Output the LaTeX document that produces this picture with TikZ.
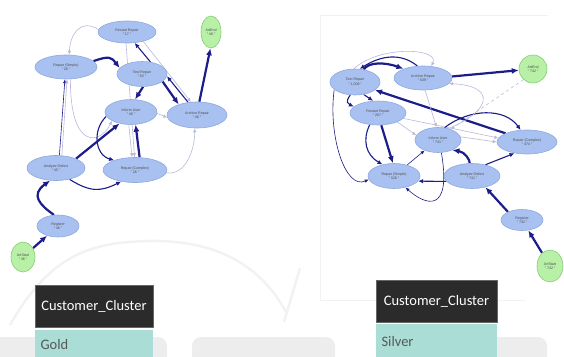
\documentclass[tikz,border=0pt]{standalone}
\usepackage{fontspec}
\setmainfont{Liberation Sans}
\newfontfamily\headfont{Carlito}
\usetikzlibrary{shapes.geometric, arrows.meta}
\definecolor{actfill}{HTML}{A9C1F0}
\definecolor{actline}{HTML}{8FA9DD}
\definecolor{artfill}{HTML}{B7F0A6}
\definecolor{artline}{HTML}{86CC74}
\definecolor{flow}{HTML}{1C1C8A}
\definecolor{flowlight}{HTML}{B8B9DA}
\definecolor{headfill}{HTML}{2B2B2B}
\definecolor{cellfill}{HTML}{A9DDD6}
\pgfdeclarelayer{back}
\pgfsetlayers{back,main}
\tikzset{
  act/.style={ellipse, draw=actline, fill=actfill, line width=0.6pt, inner sep=0pt,
    align=center, text=black!70, font=\fontsize{3.6}{4.2}\selectfont},
  artnode/.style={act, draw=artline, fill=artfill},
  heavy/.style={draw=flow, line width=2.2pt, -{Latex[length=7pt,width=6pt]}},
  mid/.style={draw=flow, line width=1.1pt, -{Latex[length=5pt,width=4.5pt]}},
  thin/.style={draw=flow, line width=0.6pt, -{Latex[length=4pt,width=3.5pt]}},
  faint/.style={draw=flowlight, line width=0.6pt, -{Latex[length=4pt,width=3.5pt]}},
  band/.style={fill=black!7, rounded corners=9pt},
  wmark/.style={draw=black!5, line width=2.5pt},
  headcell/.style={fill=headfill, draw=black!60, line width=0.4pt},
  valcell/.style={fill=cellfill},
}
\begin{document}
\begin{tikzpicture}[x=1pt, y=-1pt]
  \useasboundingbox (0,0) rectangle (564,356);
  % gold cluster
  \node[act, minimum width=58pt, minimum height=22pt] (gRestart) at (127,32) {Restart Repair\\" 17 "};
  \node[artnode, minimum width=20pt, minimum height=32pt] (gEnd) at (211,32) {ArtEnd\\" 46 "};
  \node[act, minimum width=62pt, minimum height=24pt] (gSimple) at (66,67) {Repair (Simple)\\" 26 "};
  \node[act, minimum width=50pt, minimum height=25pt] (gTest) at (142,74) {Test Repair\\" 63 "};
  \node[act, minimum width=52pt, minimum height=25pt] (gInform) at (131,112) {Inform User\\" 46 "};
  \node[act, minimum width=60pt, minimum height=26pt] (gArchive) at (197,115) {Archive Repair\\" 46 "};
  \node[act, minimum width=58pt, minimum height=25pt] (gAnalyze) at (56,168) {Analyze Defect\\" 45 "};
  \node[act, minimum width=64pt, minimum height=25pt] (gComplex) at (135,170) {Repair (Complex)\\" 26 "};
  \node[act, minimum width=42pt, minimum height=22pt] (gRegister) at (58,226) {Register\\" 46 "};
  \node[artnode, minimum width=24pt, minimum height=30pt] (gStart) at (23,257) {ArtStart\\" 46 "};
  % silver cluster
  \node[act, minimum width=50pt, minimum height=26pt] (sTest) at (355,82) {Test Repair\\" 1,008 "};
  \node[act, minimum width=58pt, minimum height=24pt] (sArchive) at (423,78) {Archive Repair\\" 639 "};
  \node[artnode, minimum width=28pt, minimum height=28pt] (sEnd) at (533,69) {ArtEnd\\" 742 "};
  \node[act, minimum width=56pt, minimum height=24pt] (sRestart) at (378,113) {Restart Repair\\" 267 "};
  \node[act, minimum width=46pt, minimum height=25pt] (sInform) at (438,140) {Inform User\\" 741 "};
  \node[act, minimum width=60pt, minimum height=24pt] (sComplex) at (527,142) {Repair (Complex)\\" 474 "};
  \node[act, minimum width=52pt, minimum height=25pt] (sSimple) at (394,176) {Repair (Simple)\\" 526 "};
  \node[act, minimum width=56pt, minimum height=25pt] (sAnalyze) at (472,176) {Analyze Defect\\" 741 "};
  \node[act, minimum width=42pt, minimum height=21pt] (sRegister) at (522,220) {Register\\" 742 "};
  \node[artnode, minimum width=26pt, minimum height=32pt] (sStart) at (550,266) {ArtStart\\" 742 "};
  % cluster tables
  \node[headcell, minimum width=118pt, minimum height=42pt, text=white, font=\headfont\fontsize{14.5}{16}\selectfont] (gHead) at (94,306) {Customer\_Cluster};
  \node[valcell, anchor=north, minimum width=118pt, minimum height=28pt, inner sep=0pt] (gCell) at (94,330) {};
  \node[anchor=west, text=black!65, font=\headfont\fontsize{14.5}{16}\selectfont] (gValue) at (37,345) {Gold};
  \node[headcell, minimum width=121pt, minimum height=42pt, text=white, font=\headfont\fontsize{14.5}{16}\selectfont] (sHead) at (436.5,301) {Customer\_Cluster};
  \node[valcell, anchor=north, minimum width=121pt, minimum height=33pt, inner sep=0pt] (sCell) at (436.5,324) {};
  \node[anchor=west, text=black!65, font=\headfont\fontsize{14.5}{16}\selectfont] (sValue) at (378,342) {Silver};
  \begin{pgfonlayer}{back}
    % watermark and frame
    \fill[band] (-20,337) rectangle (167,380); \fill[band] (192,337) rectangle (335,380);
    \fill[band] (437,337) rectangle (547,380);
    \draw[wmark] (10,325) .. controls (50,255) and (90,242) .. (150,241) .. controls (220,240) and (262,268) .. (286,312);
    \draw[wmark] (300,268) -- (284,322);
    \draw[black!5, line width=0.8pt] (548,15) -- (320,15) -- (320,300) -- (525,300);
    % gold edges
    \draw[heavy] (gStart) -- (gRegister);
    \draw[heavy] (gRegister.110) .. controls (40,205) and (30,195) .. (gAnalyze.245);
    \draw[heavy] (gAnalyze.25) -- (gInform.225);
    \draw[mid] (gAnalyze.-40) .. controls (90,192) and (100,192) .. (gComplex.220);
    \draw[thin] (gAnalyze.75) -- (gSimple.265);
    \draw[faint] (gAnalyze.65) -- (gSimple.275);
    \draw[faint] (gSimple.290) .. controls (70,150) and (100,145) .. (gInform.205);
    \draw[mid] (gInform.190) .. controls (92,130) and (95,155) .. (gComplex.155);
    \draw[heavy] (gComplex.70) -- (gInform.-70);
    \draw[faint] (gInform.-100) -- (gComplex.103);
    \draw[faint] (gRestart.-95) -- (gComplex.92);
    \draw[heavy] (gSimple.12) .. controls (110,55) and (112,58) .. (gTest.165);
    \draw[faint] (gRestart.175) .. controls (80,18) and (70,35) .. (gSimple.75);
    \draw[mid] (gTest.55) -- (gRestart.-55);
    \draw[heavy] (gTest.-85) -- (gInform.72);
    \draw[heavy] (gTest.-20) -- (gArchive.150);
    \draw[mid] (gArchive.125) -- (gTest.-5);
    \draw[heavy] (gArchive.80) -- (gEnd.-92);
    \draw[faint] (gRestart.-30) -- (gArchive.115);
    \draw[faint] (gInform.-3) -- (gArchive.185);
    \draw[faint] (gComplex.-5) .. controls (185,176) and (195,150) .. (gArchive.-100);
    % silver edges
    \draw[heavy] (sStart) -- (sRegister);
    \draw[heavy] (sRegister.150) -- (sAnalyze.-40);
    \draw[heavy] (sAnalyze.100) .. controls (470,160) and (465,152) .. (sInform.-35);
    \draw[mid] (sAnalyze.40) -- (sComplex.222);
    \draw[mid] (sAnalyze.192) -- (sSimple.-12);
    \draw[thin] (sSimple.40) -- (sInform.218);
    \draw[heavy] (sComplex.158) -- (sTest.-22);
    \draw[heavy] (sTest.55) .. controls (368,62) and (385,62) .. (sArchive.155);
    \draw[mid] (sArchive.115) .. controls (400,52) and (380,56) .. (sTest.70);
    \draw[faint] (sTest.95) .. controls (380,45) and (440,48) .. (sArchive.55);
    \draw[heavy] (sArchive.3) -- (sEnd.185);
    \draw[faint, dashed] (sEnd.228) -- (sInform.40);
    \draw[mid] (sTest.-55) -- (sRestart.112);
    \draw[mid] (sTest.250) .. controls (345,102) and (348,104) .. (sRestart.165);
    \draw[thin] (sTest.200) .. controls (328,135) and (345,190) .. (sSimple.188);
    \draw[mid] (sRestart.235) .. controls (362,140) and (366,155) .. (sSimple.135);
    \draw[heavy] (sRestart.-75) -- (sSimple.95);
    \draw[faint] (sRestart.-12) -- (sComplex.172);
    \draw[faint] (sInform.8) -- (sComplex.180);
    \draw[mid] (sInform.62) .. controls (470,108) and (505,108) .. (sComplex.118);
    \draw[faint] (sInform.48) .. controls (490,112) and (498,86) .. (sArchive.-12);
    \draw[faint] (sArchive.-80) -- (sInform.97);
    \draw[thin] (sInform.-75) .. controls (452,215) and (425,205) .. (sSimple.-45);
    \draw[faint] (sRestart.-25) -- (sInform.168);
  \end{pgfonlayer}
\end{tikzpicture}
\end{document}
